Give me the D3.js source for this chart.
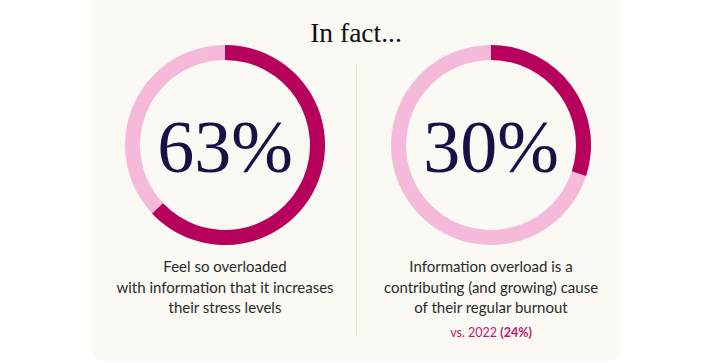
<!DOCTYPE html>
<html><head><meta charset="utf-8">
<script src="https://cdn.jsdelivr.net/npm/d3@7"></script>
<style>html,body{margin:0;padding:0;background:#fff;}svg{display:block;}</style>
</head><body>
<svg id="chart" width="712" height="363"></svg>
<script>
const title = "In fact...";
const categories = ["Stress", "Burnout"];
const values = [63, 30];
const valueLabels = ["63%", "30%"];
const descriptions = [
  ["Feel so overloaded", "with information that it increases", "their stress levels"],
  ["Information overload is a", "contributing (and growing) cause", "of their regular burnout"]
];
const comparisons = [null, {prefix: "vs. 2022 ", value: "(24%)"}];

const W = 712, H = 363;
const svg = d3.select("#chart");
svg.append("rect").attr("x", 91).attr("y", -20).attr("width", 530).attr("height", 381)
  .attr("rx", 13).attr("fill", "#faf9f4");
svg.append("line").attr("x1", 356.5).attr("x2", 356.5).attr("y1", 65).attr("y2", 337)
  .attr("stroke", "#ebe8d3").attr("stroke-width", 1);
svg.append("text").attr("x", 356).attr("y", 42).attr("text-anchor", "middle")
  .attr("font-family", "Liberation Serif, serif").attr("font-size", 27.5).attr("fill", "#111")
  .text(title);

const x = d3.scalePoint().domain(categories).range([225, 491]);
const angle = d3.scaleLinear().domain([0, 100]).range([0, 2*Math.PI]);
const arc = d3.arc().innerRadius(85).outerRadius(100);

categories.forEach((c, i) => {
  const cx = x(c);
  const g = svg.append("g").attr("transform", `translate(${cx},145)`);
  g.append("path").attr("d", arc({startAngle: 0, endAngle: 2*Math.PI})).attr("fill", "#f5b9d9");
  g.append("path").attr("d", arc({startAngle: 0, endAngle: angle(values[i])})).attr("fill", "#b6005c");
  g.append("text").attr("x", 0).attr("y", 27).attr("text-anchor", "middle")
    .attr("font-family", "Liberation Serif, serif").attr("font-size", 74).attr("fill", "#1a1045")
    .text(valueLabels[i]);
  descriptions[i].forEach((line, j) => {
    g.append("text").attr("x", 0).attr("y", 127 + j*20.5).attr("text-anchor", "middle")
      .attr("font-family", "Lato, sans-serif").attr("font-size", 15).attr("fill", "#2b2b2b")
      .text(line);
  });
  if (comparisons[i]) {
    const t = g.append("text").attr("x", 0).attr("y", 192).attr("text-anchor", "middle")
      .attr("font-family", "Lato, sans-serif").attr("font-size", 12.5).attr("fill", "#c2166c");
    t.append("tspan").text(comparisons[i].prefix);
    t.append("tspan").attr("font-weight", "bold").text(comparisons[i].value);
  }
});
</script>
</body></html>
